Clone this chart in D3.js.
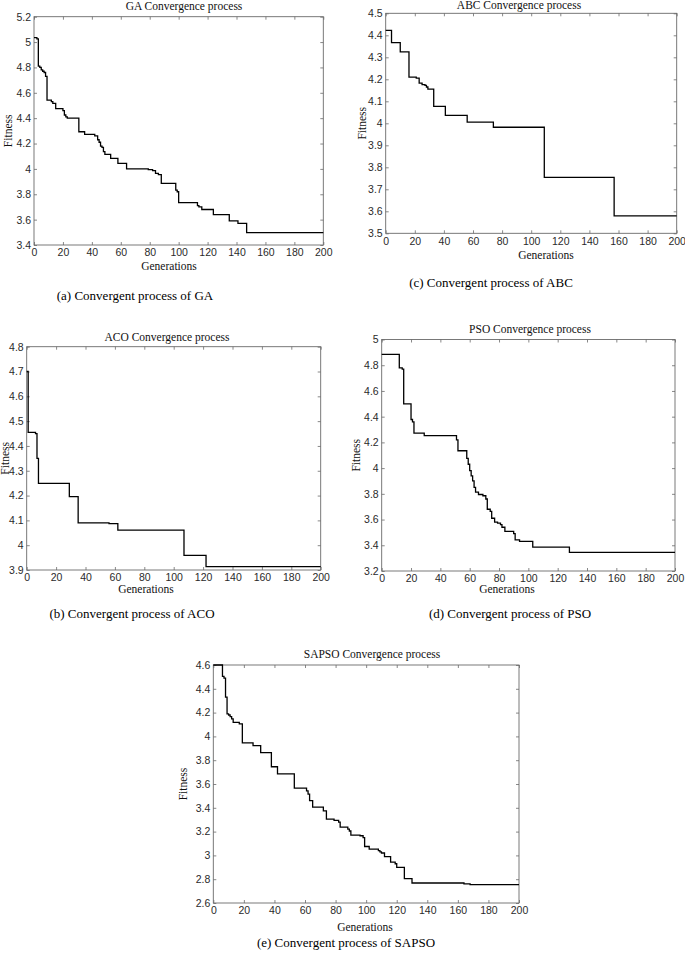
<!DOCTYPE html>
<html>
<head>
<meta charset="utf-8">
<script src="https://cdn.jsdelivr.net/npm/d3@7"></script>
<style>
  html, body { margin: 0; padding: 0; background: #fff; }
  svg { display: block; }
</style>
</head>
<body>
<svg id="chart" width="685" height="956"></svg>
<script>
// ---------------- DATA ----------------
const generationTicks = [0, 20, 40, 60, 80, 100, 120, 140, 160, 180, 200];

// GA
const gaGen = [0, 2, 3, 4, 5, 6, 7, 8, 9, 12, 13, 15, 20, 21, 22, 23, 31, 35, 42, 44, 45, 46, 47, 48, 49, 53, 58, 64, 79, 82, 84, 86, 88, 98, 99, 100, 113, 114, 116, 124, 135, 141, 147, 200];
const gaFit = [5.035, 5.025, 4.81, 4.80, 4.78, 4.77, 4.76, 4.73, 4.543, 4.53, 4.517, 4.475, 4.46, 4.425, 4.41, 4.40, 4.293, 4.272, 4.26, 4.23, 4.21, 4.18, 4.17, 4.136, 4.115, 4.083, 4.044, 4.00, 3.995, 3.986, 3.965, 3.955, 3.886, 3.833, 3.82, 3.734, 3.71, 3.70, 3.68, 3.64, 3.59, 3.57, 3.497, 3.497];
const gaYTicks = [3.4, 3.6, 3.8, 4, 4.2, 4.4, 4.6, 4.8, 5, 5.2];

// ABC
const abcGen = [0, 4, 10, 16, 21, 23, 25, 27, 28, 29, 33, 41, 56, 74, 109, 157, 200];
const abcFit = [4.422, 4.367, 4.325, 4.21, 4.205, 4.183, 4.176, 4.172, 4.165, 4.155, 4.077, 4.036, 4.005, 3.982, 3.754, 3.579, 3.579];
const abcYTicks = [3.5, 3.6, 3.7, 3.8, 3.9, 4, 4.1, 4.2, 4.3, 4.4, 4.5];

// ACO
const acoGen = [0, 1, 6, 7, 8, 29, 35, 56, 62, 107, 122, 200];
const acoFit = [4.70, 4.455, 4.45, 4.35, 4.249, 4.196, 4.09, 4.087, 4.061, 3.959, 3.914, 3.914];
const acoYTicks = [3.9, 4, 4.1, 4.2, 4.3, 4.4, 4.5, 4.6, 4.7, 4.8];

// PSO
const psoGen = [0, 12, 14, 15, 20, 21, 22, 29, 51, 52, 58, 59, 60, 61, 62, 63, 64, 66, 69, 71, 72, 74, 75, 77, 79, 81, 82, 84, 90, 91, 94, 103, 128, 200];
const psoFit = [4.885, 4.78, 4.77, 4.50, 4.378, 4.36, 4.272, 4.252, 4.22, 4.135, 4.075, 4.03, 3.98, 3.94, 3.90, 3.85, 3.813, 3.795, 3.785, 3.76, 3.68, 3.663, 3.61, 3.58, 3.573, 3.56, 3.54, 3.508, 3.49, 3.442, 3.43, 3.386, 3.345, 3.345];
const psoYTicks = [3.2, 3.4, 3.6, 3.8, 4, 4.2, 4.4, 4.6, 4.8, 5];

// SAPSO
const sapsoGen = [0, 6, 7, 8, 9, 10, 11, 12, 13, 17, 19, 26, 31, 38, 42, 53, 61, 62, 63, 65, 72, 74, 79, 82, 83, 88, 89, 90, 96, 98, 99, 102, 108, 109, 110, 112, 116, 119, 120, 125, 130, 164, 168, 200];
const sapsoFit = [4.60, 4.505, 4.49, 4.33, 4.19, 4.18, 4.166, 4.147, 4.118, 4.105, 3.945, 3.923, 3.864, 3.745, 3.685, 3.565, 3.543, 3.515, 3.46, 3.405, 3.375, 3.305, 3.295, 3.28, 3.238, 3.22, 3.205, 3.17, 3.165, 3.15, 3.075, 3.053, 3.04, 3.03, 3.02, 2.99, 2.944, 2.93, 2.90, 2.804, 2.768, 2.76, 2.754, 2.754];
const sapsoYTicks = [2.6, 2.8, 3, 3.2, 3.4, 3.6, 3.8, 4, 4.2, 4.4, 4.6];

// Texts
const titles = ["GA Convergence process", "ABC Convergence process", "ACO Convergence process", "PSO Convergence process", "SAPSO Convergence process"];
const captions = ["(a) Convergent process of GA", "(c) Convergent process of ABC", "(b) Convergent process of ACO", "(d) Convergent process of PSO", "(e) Convergent process of SAPSO"];
const xLabel = "Generations";
const yLabel = "Fitness";

// ---------------- LAYOUT ----------------
const panels = [
  { gen: gaGen, fit: gaFit, yTicks: gaYTicks, title: titles[0], caption: captions[0],
    box: [34, 16.7, 323.3, 245], titleX: 184, titleY: 10, yLabX: 12, xLabX: 169, xLabY: 270, capX: 135, capY: 300 },
  { gen: abcGen, fit: abcFit, yTicks: abcYTicks, title: titles[1], caption: captions[1],
    box: [385.7, 13.3, 676.7, 233.3], titleX: 519, titleY: 9, yLabX: 366, xLabX: 546, xLabY: 259, capX: 491, capY: 287 },
  { gen: acoGen, fit: acoFit, yTicks: acoYTicks, title: titles[2], caption: captions[2],
    box: [26.7, 346.7, 320.7, 570], titleX: 167, titleY: 341, yLabX: 9, xLabX: 146, xLabY: 593, capX: 132, capY: 618 },
  { gen: psoGen, fit: psoFit, yTicks: psoYTicks, title: titles[3], caption: captions[3],
    box: [381.7, 339.5, 675, 571], titleX: 530, titleY: 333, yLabX: 360, xLabX: 507, xLabY: 593, capX: 510, capY: 618 },
  { gen: sapsoGen, fit: sapsoFit, yTicks: sapsoYTicks, title: titles[4], caption: captions[4],
    box: [213.3, 665, 519, 903], titleX: 372, titleY: 658, yLabX: 187, xLabX: 365, xLabY: 931, capX: 346, capY: 947 }
];

const svg = d3.select("#chart");
const serif = "'Liberation Serif', 'Times New Roman', serif";
const sans = "'Liberation Sans', Arial, sans-serif";
const axisColor = "#6a6a6a";
const tickTextColor = "#2a2a2a";
const fmt = d => String(+d.toFixed(1));

panels.forEach(p => {
  const [x0, y0, x1, y1] = p.box;
  const x = d3.scaleLinear().domain([0, 200]).range([x0, x1]);
  const y = d3.scaleLinear().domain([p.yTicks[0], p.yTicks[p.yTicks.length - 1]]).range([y1, y0]);
  const g = svg.append("g");

  // frame
  g.append("rect").attr("x", x0).attr("y", y0).attr("width", x1 - x0).attr("height", y1 - y0)
    .attr("fill", "#fff").attr("stroke", axisColor).attr("stroke-width", 0.9);

  const styleAxis = (sel, withText) => {
    sel.select(".domain").remove();
    sel.selectAll(".tick line").attr("stroke", axisColor).attr("stroke-width", 0.8);
    sel.selectAll(".tick text").attr("fill", tickTextColor)
      .attr("font-family", sans).attr("font-size", 10.5);
    if (!withText) sel.selectAll(".tick text").remove();
  };

  g.append("g").attr("transform", `translate(0,${y1})`)
    .call(d3.axisBottom(x).tickValues(generationTicks).tickSizeInner(-3).tickSizeOuter(0).tickPadding(4).tickFormat(d3.format("d")))
    .call(s => styleAxis(s, true));
  g.append("g").attr("transform", `translate(0,${y0})`)
    .call(d3.axisTop(x).tickValues(generationTicks).tickSizeInner(-3).tickSizeOuter(0))
    .call(s => styleAxis(s, false));
  g.append("g").attr("transform", `translate(${x0},0)`)
    .call(d3.axisLeft(y).tickValues(p.yTicks).tickSizeInner(-3).tickSizeOuter(0).tickPadding(3).tickFormat(fmt))
    .call(s => styleAxis(s, true));
  g.append("g").attr("transform", `translate(${x1},0)`)
    .call(d3.axisRight(y).tickValues(p.yTicks).tickSizeInner(-3).tickSizeOuter(0))
    .call(s => styleAxis(s, false));

  // series
  const pts = p.gen.map((gv, i) => [gv, p.fit[i]]);
  const line = d3.line().x(d => x(d[0])).y(d => y(d[1])).curve(d3.curveStepAfter);
  g.append("path").datum(pts).attr("d", line)
    .attr("fill", "none").attr("stroke", "#000").attr("stroke-width", 1.3)
    .attr("stroke-linejoin", "miter");

  // title
  g.append("text").attr("x", p.titleX).attr("y", p.titleY)
    .attr("text-anchor", "middle").attr("font-family", serif).attr("font-size", 11.5)
    .attr("fill", "#111").text(p.title);
  // x label
  g.append("text").attr("x", p.xLabX).attr("y", p.xLabY)
    .attr("text-anchor", "middle").attr("font-family", serif).attr("font-size", 11.5)
    .attr("fill", "#111").text(xLabel);
  // y label
  g.append("text").attr("transform", `translate(${p.yLabX},${(y0 + y1) / 2}) rotate(-90)`)
    .attr("text-anchor", "middle").attr("font-family", serif).attr("font-size", 11.5)
    .attr("fill", "#111").text(yLabel);
  // caption
  g.append("text").attr("x", p.capX).attr("y", p.capY)
    .attr("text-anchor", "middle").attr("font-family", serif).attr("font-size", 13)
    .attr("fill", "#000").text(p.caption);
});
</script>
</body>
</html>
